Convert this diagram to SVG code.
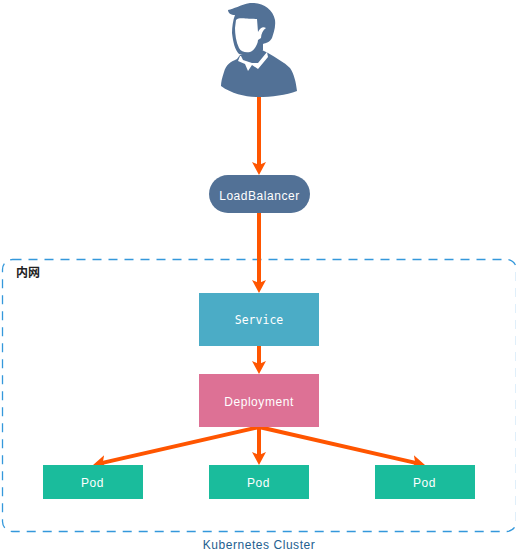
<svg xmlns="http://www.w3.org/2000/svg" width="516" height="552" viewBox="0 0 516 552">
<style>
text{font-family:"Liberation Sans",Arial,sans-serif;font-size:12px;text-anchor:middle;fill:#fff;letter-spacing:.55px}
.c{fill:none;stroke:#ff5500;stroke-width:4}
.u{fill:#527196}
</style>
<defs>
<marker id="a" markerUnits="userSpaceOnUse" markerWidth="14" markerHeight="14" refX="9" refY="7" orient="auto"><path d="M0 0L13 7L0 14L3 7Z" fill="#ff5500"/></marker>
</defs>
<rect id="cluster" x="2.500" y="259.500" width="514" height="272" rx="10" fill="none" stroke="#3498db" stroke-width="1.300" stroke-dasharray="9 7"/>
<text x="28" y="277" style="font-family:'Noto Sans CJK SC',sans-serif;font-weight:700;fill:#222;letter-spacing:0">内网</text>
<text x="259" y="549" style="fill:#23608f">Kubernetes Cluster</text>
<g id="connectors">
<path class="c" d="M259 97V171" marker-end="url(#a)"/>
<path class="c" d="M259 213V289" marker-end="url(#a)"/>
<path class="c" d="M259 346V370" marker-end="url(#a)"/>
<path class="c" d="M259 427L96.900 464.100" marker-end="url(#a)"/>
<path class="c" d="M259 427V461" marker-end="url(#a)"/>
<path class="c" d="M259 427L421.100 464.100" marker-end="url(#a)"/>
</g>
<g id="user">
<path class="u" d="M237 59C230 62 226 65 224 72C222 78 221 82 221 86C232 94 246 97 258 97C272 97 286 95 297 91C296 82 294 74 290 68C284 62 276 58 268 53L262 50L240 55Z"/>
<path d="M240 56L238 61L245 64L248 71L252 65L258 69L268 57L267 52L258 63L252 63L243 60L241 56Z" fill="#fff"/>
<path class="u" d="M228 10C234 9 240 5 250 3C262 2 273 9 275 20C276 28 273 34 272 38C270 42 266 43 263 44L263 50L255 56L247 56L239 54C235 50 233 42 232 33C232 27 233 20 235 15C231 15 228 13 228 10Z"/>
<path d="M236 20C240 17 243 19 257 19L258 32C260 28 263 26 266 28C263 30 261 34 261 38L258 40C258 44 254 51 250 52C246 53 241 52 239 48C236 42 235 34 235 28Z" fill="#fff"/>
</g>
<g id="loadbalancer"><rect x="209" y="175" width="101" height="38" rx="19" fill="#527196"/><text x="259.500" y="200">LoadBalancer</text></g>
<g id="service"><rect x="199" y="293" width="120" height="53" fill="#4bacc6"/><text x="259" y="324" style="font-family:'DejaVu Sans Mono',monospace;font-size:11.500px;letter-spacing:0">Service</text></g>
<g id="deployment"><rect x="199" y="374" width="120" height="53" fill="#dd7195"/><text x="259" y="406">Deployment</text></g>
<g id="pod1"><rect x="43" y="465" width="100" height="34" fill="#1abc9c"/><text x="92.500" y="487">Pod</text></g>
<g id="pod2"><rect x="209" y="465" width="100" height="34" fill="#1abc9c"/><text x="258.500" y="487">Pod</text></g>
<g id="pod3"><rect x="375" y="465" width="100" height="34" fill="#1abc9c"/><text x="424.500" y="487">Pod</text></g>
</svg>
